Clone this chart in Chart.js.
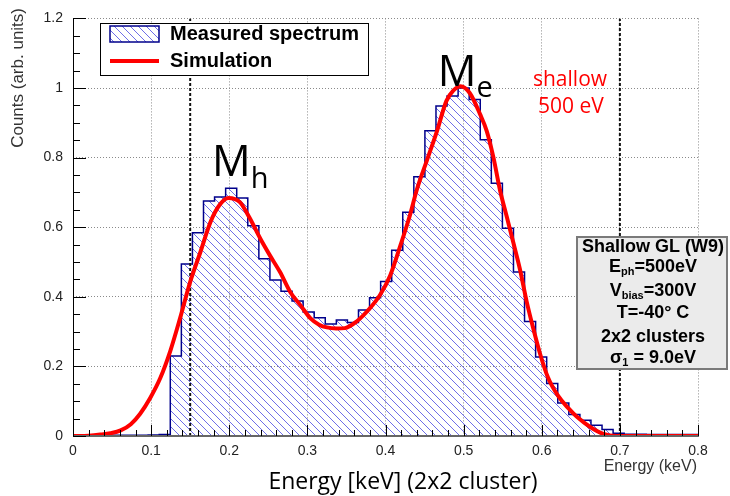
<!DOCTYPE html>
<html>
<head>
<meta charset="utf-8">
<script src="https://cdn.jsdelivr.net/npm/chart.js@4.4.1/dist/chart.umd.min.js"></script>
<style>
  body { margin: 0; background: #fff; }
  #wrap { width: 730px; height: 496px; }
</style>
</head>
<body>
<div id="wrap"><canvas id="spectrum" width="730" height="496"></canvas></div>
<script>
// histogram binning, keV
const binStart = -0.003
const binWidth = 0.01417

// measured spectrum, one value per bin
const measured = [
    0.002, 0.002, 0.002, 0.002, 0.002, 0.002, 0.002, 0.003, 0.004,
    0.230, 0.494, 0.584, 0.675, 0.687, 0.712, 0.684, 0.604, 0.509, 0.448,
    0.416, 0.388, 0.356, 0.340, 0.322, 0.333, 0.326, 0.362, 0.397, 0.444,
    0.534, 0.643, 0.745, 0.877, 0.948, 0.977, 1.000, 0.967, 0.851, 0.726,
    0.597, 0.471, 0.329, 0.227, 0.151, 0.095, 0.062, 0.045, 0.031, 0.019,
    0.008, 0.005, 0.005, 0.004, 0.004, 0.004, 0.004, 0.004
]

// simulated spectrum
const simEnergy = [
    0.000, 0.020, 0.035, 0.048, 0.061, 0.074, 0.086, 0.099, 0.112, 0.1245,
    0.137, 0.150, 0.163, 0.176, 0.188, 0.199, 0.2136, 0.226, 0.240, 0.252,
    0.265, 0.278, 0.291, 0.304, 0.315, 0.325, 0.337, 0.348, 0.363, 0.380,
    0.393, 0.406, 0.419, 0.431, 0.440, 0.453, 0.466, 0.478, 0.487, 0.496,
    0.508, 0.521, 0.5295, 0.538, 0.5465, 0.555, 0.5636, 0.572, 0.5807, 0.589,
    0.598, 0.608, 0.621, 0.634, 0.645, 0.662, 0.679, 0.696, 0.800
]
const simCounts = [
    0.000, 0.001, 0.004, 0.008, 0.016, 0.034, 0.064, 0.110, 0.168, 0.244,
    0.338, 0.443, 0.528, 0.615, 0.665, 0.684, 0.672, 0.627, 0.566, 0.519,
    0.471, 0.414, 0.376, 0.338, 0.320, 0.312, 0.309, 0.310, 0.329, 0.367,
    0.405, 0.461, 0.547, 0.632, 0.707, 0.792, 0.877, 0.963, 0.993, 1.005,
    0.985, 0.925, 0.877, 0.802, 0.707, 0.632, 0.556, 0.480, 0.386, 0.310,
    0.235, 0.168, 0.115, 0.080, 0.055, 0.026, 0.006, 0.000, 0.000
]

// threshold cuts, keV
const cutEnergies = [0.15, 0.7]

const xTickLabels = ["0", "0.1", "0.2", "0.3", "0.4", "0.5", "0.6", "0.7", "0.8"]
const yTickLabels = ["0", "0.2", "0.4", "0.6", "0.8", "1", "1.2"]
const legendLabels = ["Measured spectrum", "Simulation"]

// [text, subscript, text after subscript]
const infoLines = [
    ["Shallow GL (W9)"],
    ["E", "ph", "=500eV"],
    ["V", "bias", "=300V"],
    ["T=-40\u00b0 C"],
    ["2x2 clusters"],
    ["\u03c3", "1", " = 9.0eV"]
]
const peakNames = [["M", "h"], ["M", "e"]]
const noteLines = ["shallow", "500 eV"]
const xTitle = "Energy [keV] (2x2 cluster)"
const xTitleSmall = "Energy (keV)"
const yTitle = "Counts (arb. units)"

const canvas = document.getElementById("spectrum")
const ctx = canvas.getContext("2d")

const helv = '"Liberation Sans", Arial, sans-serif'
const calib = '"Open Sans", "Noto Sans", sans-serif'

const makeHatch = () => {
    const c = document.createElement("canvas")
    c.width = 8
    c.height = 8
    const g = c.getContext("2d")
    g.strokeStyle = "#6e6ee8"
    g.lineWidth = 1
    g.beginPath()
    g.moveTo(0, 0); g.lineTo(8, 8)
    g.moveTo(-1, 7); g.lineTo(1, 9)
    g.moveTo(7, -1); g.lineTo(9, 1)
    g.stroke()
    return ctx.createPattern(c, "repeat")
}
const hatch = makeHatch()

const histPoints = measured.map((v, i) => ({ x: binStart + i * binWidth, y: v }))
histPoints.push({ x: binStart + measured.length * binWidth, y: measured[measured.length - 1] })

const simPoints = simEnergy.map((e, i) => ({ x: e, y: simCounts[i] }))

const cutSets = cutEnergies.map(e => ({
    data: [{ x: e, y: 0 }, { x: e, y: 1.2 }],
    showLine: true,
    borderColor: "#111",
    borderWidth: 2,
    borderDash: [3, 2],
    pointRadius: 0,
    order: 1
}))

// draws text + subscript + rest, centred or left aligned at (x, y)
const richText = (c, parts, x, y, size, align, subScale, subShift) => {
    const subSize = Math.round(size * subScale)
    const mainFont = c.font
    const subFont = c.font.replace(/\d+px/, subSize + "px")
    const w0 = c.measureText(parts[0]).width
    c.font = subFont
    const w1 = parts[1] ? c.measureText(parts[1]).width : 0
    c.font = mainFont
    const w2 = parts[2] ? c.measureText(parts[2]).width : 0
    const sx = align === "center" ? x - (w0 + w1 + w2) / 2 : x
    c.textAlign = "left"
    c.fillText(parts[0], sx, y)
    if (parts[1]) {
        c.font = subFont
        c.fillText(parts[1], sx + w0, y + size * subShift)
        c.font = mainFont
    }
    if (parts[2]) c.fillText(parts[2], sx + w0 + w1, y)
}

const decorations = {
    id: "decorations",
    afterDraw(chart) {
        const c = chart.ctx
        const xs = chart.scales.x
        const ys = chart.scales.y
        const a = chart.chartArea
        c.save()
        c.setLineDash([])

        // axis lines
        c.strokeStyle = "#000"
        c.lineWidth = 1
        c.beginPath()
        c.moveTo(a.left + 0.5, a.top)
        c.lineTo(a.left + 0.5, a.bottom)
        c.stroke()
        c.strokeStyle = "#666"
        c.lineWidth = 2
        c.beginPath()
        c.moveTo(a.left, a.bottom)
        c.lineTo(a.right + 1, a.bottom)
        c.stroke()

        // inward tick marks
        c.strokeStyle = "#000"
        c.lineWidth = 1
        c.beginPath()
        for (let i = 0; i <= 40; i++) {
            const px = Math.round(xs.getPixelForValue(i * 0.02)) + 0.5
            const len = i % 5 === 0 ? 11 : 6
            c.moveTo(px, a.bottom)
            c.lineTo(px, a.bottom - len)
        }
        for (let i = 0; i <= 24; i++) {
            const py = Math.round(ys.getPixelForValue(i * 0.05)) + 0.5
            const len = i % 4 === 0 ? 13 : 7
            c.moveTo(a.left, py)
            c.lineTo(a.left + len, py)
        }
        c.stroke()

        // legend
        const lx = 100, ly = 23, lw = 268, lh = 52
        c.fillStyle = "#fff"
        c.fillRect(lx, ly, lw, lh)
        c.strokeStyle = "#000"
        c.lineWidth = 1
        c.strokeRect(lx + 0.5, ly + 0.5, lw, lh)
        c.fillStyle = hatch
        c.fillRect(110, 26, 49, 16)
        c.strokeStyle = "#00008b"
        c.lineWidth = 1.5
        c.strokeRect(110, 26, 49, 16)
        c.strokeStyle = "#ff0000"
        c.lineWidth = 4
        c.beginPath()
        c.moveTo(110, 61)
        c.lineTo(159, 61)
        c.stroke()
        c.fillStyle = "#000"
        c.font = "bold 20px " + helv
        c.textAlign = "left"
        c.textBaseline = "middle"
        c.fillText(legendLabels[0], 170, 34)
        c.fillText(legendLabels[1], 170, 61)

        // info box
        c.fillStyle = "#ebebeb"
        c.fillRect(577, 237, 150, 132)
        c.strokeStyle = "#7a7a7a"
        c.lineWidth = 2
        c.strokeRect(577, 237, 150, 132)
        c.fillStyle = "#000"
        c.font = "bold 18px " + helv
        const rows = [247, 267, 291, 313, 337, 358]
        infoLines.forEach((parts, i) => richText(c, parts, 653, rows[i], 18, "center", 0.6, 0.3))

        // peak labels
        c.font = "43px " + calib
        c.textBaseline = "alphabetic"
        richText(c, peakNames[0], xs.getPixelForValue(0.178), ys.getPixelForValue(0.746), 43, "left", 0.68, 0.26)
        richText(c, peakNames[1], xs.getPixelForValue(0.467), ys.getPixelForValue(1.005), 43, "left", 0.68, 0.24)

        // note
        c.fillStyle = "#ff0000"
        c.font = "21px " + calib
        c.textAlign = "center"
        c.fillText(noteLines[0], 570, 86)
        c.fillText(noteLines[1], 571, 113)

        // axis titles
        c.fillStyle = "#000"
        c.font = "23px " + calib
        c.fillText(xTitle, 403, 489)
        c.fillStyle = "#333"
        c.font = "16px " + helv
        c.textAlign = "right"
        c.fillText(xTitleSmall, 697, 471)
        c.translate(18, 8)
        c.rotate(-Math.PI / 2)
        c.font = "17px " + helv
        c.textAlign = "right"
        c.textBaseline = "middle"
        c.fillText(yTitle, 0, 0)

        c.restore()
    }
}

const chart = new Chart(canvas, {
    type: "scatter",
    data: {
        datasets: [
            {
                label: legendLabels[1],
                data: simPoints,
                showLine: true,
                borderColor: "#ff0000",
                borderWidth: 4,
                pointRadius: 0,
                cubicInterpolationMode: "monotone",
                order: 0
            },
            ...cutSets,
            {
                label: legendLabels[0],
                data: histPoints,
                showLine: true,
                stepped: true,
                borderColor: "#00008b",
                borderWidth: 1.5,
                backgroundColor: hatch,
                fill: "origin",
                pointRadius: 0,
                order: 2
            }
        ]
    },
    options: {
        responsive: false,
        animation: false,
        devicePixelRatio: 1,
        layout: { autoPadding: false, padding: { left: 0, top: 13, right: 32, bottom: 0 } },
        plugins: { legend: { display: false }, tooltip: { enabled: false } },
        scales: {
            x: {
                type: "linear",
                min: 0,
                max: 0.8,
                afterFit: s => { s.height = 60 },
                ticks: {
                    stepSize: 0.1,
                    padding: 7,
                    color: "#222",
                    font: { family: helv, size: 14 },
                    maxRotation: 0,
                    callback: (v, i) => xTickLabels[i]
                },
                grid: { color: "#8a8a8a", lineWidth: 1, drawTicks: false },
                border: { display: false, dash: [1, 2] }
            },
            y: {
                type: "linear",
                min: 0,
                max: 1.2,
                afterFit: s => { s.width = 73 },
                ticks: {
                    stepSize: 0.2,
                    padding: 10,
                    color: "#222",
                    font: { family: helv, size: 14 },
                    callback: (v, i) => yTickLabels[i]
                },
                grid: { color: "#8a8a8a", lineWidth: 1, drawTicks: false },
                border: { display: false, dash: [1, 2] }
            }
        }
    },
    plugins: [decorations]
})
</script>
</body>
</html>
